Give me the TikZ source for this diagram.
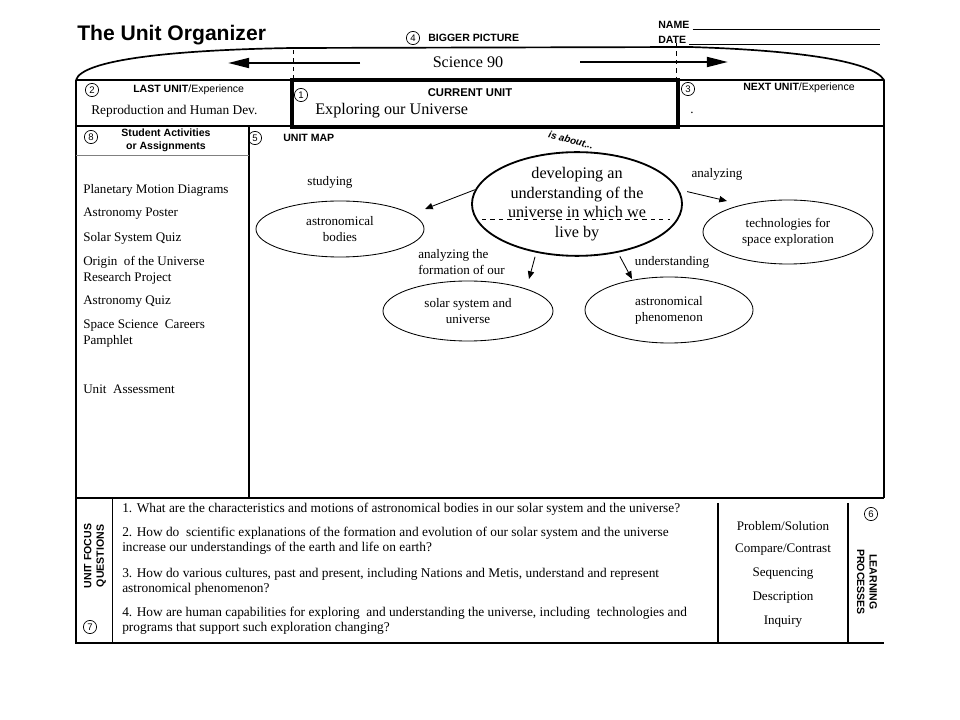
\documentclass[tikz,border=0pt]{standalone}
\usepackage{fontspec}
\setmainfont{Liberation Serif}
\setsansfont{Liberation Sans}
\usetikzlibrary{shapes.geometric,arrows.meta}

\begin{document}
\begin{tikzpicture}[x=0.025cm,y=-0.025cm,
  rim/.style={line width=1.2pt},
  num/.style={draw,circle,line width=0.5pt,inner sep=0pt,minimum size=0.33cm,font=\sffamily\fontsize{6.8}{7}\selectfont},
  tag/.style={inner sep=0pt,font=\sffamily\bfseries\fontsize{7.5}{9}\selectfont},
  txt/.style={inner sep=0pt,font=\fontsize{9.3}{11.4}\selectfont},
  ask/.style={inner sep=0pt,anchor=west,align=left,font=\fontsize{9.5}{10.9}\selectfont},
  big/.style={inner sep=0pt,font=\fontsize{11.5}{13.9}\selectfont},
  topic/.style={draw,ellipse,line width=0.6pt,align=center,inner sep=0pt,font=\fontsize{9.3}{11.4}\selectfont},
  link/.style={line width=0.6pt,-{Triangle[length=5.5pt,width=4.5pt]}},
  wide/.style={line width=1.6pt,-{Triangle[length=15pt,width=7pt]}}]

  \useasboundingbox (0,0) rectangle (960,720);

  \coordinate (C0) at (76,80);
  \coordinate (C1) at (292,48);
  \coordinate (C2) at (690,47);
  \coordinate (C3) at (884,80);
  \coordinate (C4) at (884,498);
  \coordinate (C5) at (884,643);
  \coordinate (C6) at (76,643);

  % Draw lid and frame
  \draw[rim] (C0) .. controls (82,60) and (170,50) .. (C1) -- (C2) .. controls (790,50) and (872,60) .. (C3) -- (C4);
  \draw[rim] (C0) -- (C3);
  \draw[rim] (C0) -- (C6) -- (C5);
  \draw[rim] (76,126) -- (884,126);
  \draw[rim] (76,498) -- (884,498);
  \draw[rim] (249,126) -- (249,498);
  \draw[line width=0.5pt] (112,498) -- (112,643);
  \draw[line width=1.3pt] (718,503) -- (718,643);
  \draw[line width=1pt] (848,503) -- (848,643);
  \draw[line width=0.5pt,gray] (76,155) -- (249,155);
  \draw[line width=2.9pt] (292,80) rectangle (678,127);
  \draw[dashed,line width=0.4pt] (293,50) -- (293,80);
  \draw[dashed,line width=0.4pt] (676,43) -- (676,80);

  % Header
  \node[anchor=base west,inner sep=0pt,font=\sffamily\bfseries\fontsize{15}{18}\selectfont] (title) at (77,41) {The Unit Organizer};
  \node[tag,anchor=base west] (name) at (658,29) {NAME};
  \node[tag,anchor=base west] (date) at (658,44) {DATE};
  \draw[line width=0.6pt] (name.base east) ++(3,0) -- (880,29);
  \draw[line width=0.6pt] (date.base east) ++(3,0) -- (880,44);
  \node[num] (n4) at (413,38) {4};
  \node[tag,anchor=west] (bigger) at (428,38) {BIGGER PICTURE};
  \node[big] (science) at (468,62) {Science 90};
  \coordinate (backTail) at (360,63);
  \coordinate (backTip) at (228,63);
  \coordinate (nextTail) at (580,62);
  \coordinate (nextTip) at (728,62);
  \draw[wide] (backTail) -- (backTip);
  \draw[wide] (nextTail) -- (nextTip);

  % Units
  \node[num] (n2) at (92,90) {2};
  \node[tag,anchor=west] (last) at (133,90) {LAST UNIT\mdseries/Experience};
  \node[inner sep=0pt,anchor=west,font=\fontsize{9.5}{11}\selectfont] (lastunit) at (91,111) {Reproduction and Human Dev.};
  \node[num] (n1) at (301,95) {1};
  \node[tag,font=\sffamily\bfseries\fontsize{8}{9}\selectfont] (current) at (470,93) {CURRENT UNIT};
  \node[big,anchor=west] (unit) at (315,111) {Exploring our Universe};
  \node[num] (n3) at (688,89) {3};
  \node[tag,anchor=west] (next) at (743,88) {NEXT UNIT\mdseries/Experience};
  \node[txt] (nextunit) at (692,113) {.};

  % Activities
  \node[num] (n8) at (91,137) {8};
  \node[tag,align=center] (tasks) at (166,140) {Student Activities\\or Assignments};
  \node[txt,anchor=west] (a1) at (83,190) {Planetary Motion Diagrams};
  \node[txt,anchor=west] (a2) at (83,214) {Astronomy Poster};
  \node[txt,anchor=west] (a3) at (83,238) {Solar System Quiz};
  \node[txt,anchor=west,align=left] (a4) at (83,270) {Origin \ of the Universe\\Research Project};
  \node[txt,anchor=west] (a5) at (83,302) {Astronomy Quiz};
  \node[txt,anchor=west,align=left] (a6) at (83,334) {Space Science \ Careers\\Pamphlet};
  \node[txt,anchor=west] (a7) at (83,389) {Unit \ Assessment};

  % Unit map
  \node[num] (n5) at (255,138) {5};
  \node[tag,anchor=west] (map) at (283,138) {UNIT MAP};
  \node[inner sep=0pt,rotate=-15,font=\sffamily\bfseries\itshape\fontsize{7}{8}\selectfont] (about) at (571,140) {is about...};
  \node[topic,line width=1.3pt,minimum width=5.25cm,minimum height=2.575cm,font=\fontsize{11.5}{13.9}\selectfont] (core) at (577,204) {developing an\\understanding of the\\universe in which we\\live by};
  \draw[line width=0.5pt,dash pattern=on 3pt off 3pt] (core.center) ++(-95,15) -- ++(188,0);
  \node[topic,minimum width=4.2cm,minimum height=1.4cm] (bodies) at (340,229) {astronomical\\bodies};
  \node[topic,minimum width=4.25cm,minimum height=1.5cm] (solar) at (468,311) {solar system and\\universe};
  \node[topic,minimum width=4.2cm,minimum height=1.65cm] (phenom) at (669,310) {astronomical\\phenomenon};
  \node[topic,minimum width=4.25cm,minimum height=1.6cm] (tech) at (788,232) {technologies for\\space exploration};
  \node[txt] (studying) at (330,182) {studying};
  \node[txt,anchor=west,align=left] (forming) at (418,262) {analyzing the\\formation of our};
  \node[txt] (understanding) at (672,262) {understanding};
  \node[txt] (analyzing) at (717,174) {analyzing};
  \coordinate (toBodies) at (425,209);
  \coordinate (toSolar) at (529,279);
  \coordinate (toPhenom) at (632,279);
  \coordinate (toTech) at (727,201);
  \draw[link] (core.172) -- (toBodies);
  \draw[link,shorten <=3pt] (core.230) -- (toSolar);
  \draw[link,shorten <=3pt] (core.310) -- (toPhenom);
  \draw[link,shorten <=6pt] (core.8) -- (toTech);

  % Focus questions
  \node[tag,rotate=90,align=center] (focus) at (95,556) {UNIT FOCUS\\QUESTIONS};
  \node[num] (n7) at (90,627) {7};
  \node[ask] (q1) at (122,509) {1. What are the characteristics and motions of astronomical bodies in our solar system and the universe?};
  \node[ask] (q2) at (122,541) {2. How do \ scientific explanations of the formation and evolution of our solar system and the universe\\increase our understandings of the earth and life on earth?};
  \node[ask] (q3) at (122,582) {3. How do various cultures, past and present, including Nations and Metis, understand and represent\\astronomical phenomenon?};
  \node[ask] (q4) at (122,621) {4. How are human capabilities for exploring \ and understanding the universe, including \ technologies and\\programs that support such exploration changing?};

  % Learning processes
  \node[txt] (p1) at (783,526) {Problem/Solution};
  \node[txt] (p2) at (783,550) {Compare/Contrast};
  \node[txt] (p3) at (783,574) {Sequencing};
  \node[txt] (p4) at (783,598) {Description};
  \node[txt] (p5) at (783,622) {Inquiry};
  \node[num] (n6) at (871,514) {6};
  \node[tag,rotate=-90,align=center] (processes) at (867,582) {LEARNING\\PROCESSES};

\end{tikzpicture}
\end{document}
